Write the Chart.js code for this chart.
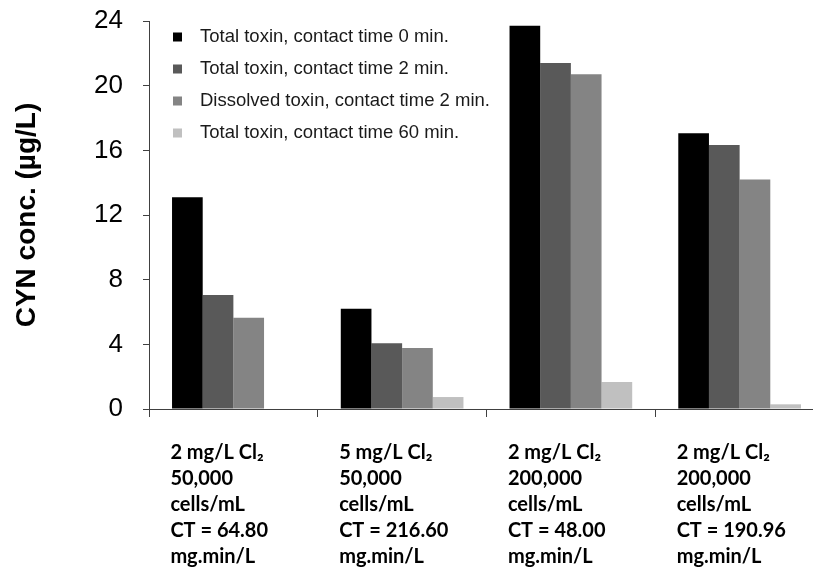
<!DOCTYPE html>
<html>
<head>
<meta charset="utf-8">
<script src="https://cdn.jsdelivr.net/npm/chart.js@4/dist/chart.umd.min.js"></script>
<style>
  html, body { margin: 0; padding: 0; background: #ffffff; overflow: hidden; }
  #wrap { width: 840px; height: 573px; }
  #chart { display: block; width: 840px; height: 573px; }
</style>
</head>
<body>
<div id="wrap"><canvas id="chart" width="840" height="573"></canvas></div>
<script>
// Treatment conditions (multi-line category labels)
const categories = [
  ['2 mg/L Cl\u2082', '50,000', 'cells/mL', 'CT = 64.80', 'mg.min/L'],
  ['5 mg/L Cl\u2082', '50,000', 'cells/mL', 'CT = 216.60', 'mg.min/L'],
  ['2 mg/L Cl\u2082', '200,000', 'cells/mL', 'CT = 48.00', 'mg.min/L'],
  ['2 mg/L Cl\u2082', '200,000', 'cells/mL', 'CT = 190.96', 'mg.min/L']
];

const seriesLabels = [
  'Total toxin, contact time 0 min.',
  'Total toxin, contact time 2 min.',
  'Dissolved toxin, contact time 2 min.',
  'Total toxin, contact time 60 min.'
];

// CYN concentrations, µg/L
const totalT0 = [13.1, 6.2, 23.7, 17.05];
const totalT2 = [7.05, 4.07, 21.4, 16.33];
const dissolvedT2 = [5.64, 3.78, 20.7, 14.2];
const totalT60 = [0, 0.74, 1.67, 0.29];

const yTicks = [0, 4, 8, 12, 16, 20, 24];

const colors = ['#000000', '#595959', '#848484', '#c0c0c0'];
const seriesValues = [totalT0, totalT2, dissolvedT2, totalT60];

// Legend drawn as a column in the upper-left of the plot area
const insideLegend = {
  id: 'insideLegend',
  afterDraw(chart) {
    const ctx = chart.ctx;
    const area = chart.chartArea;
    ctx.save();
    ctx.font = '18.5px "Liberation Sans", Arial, sans-serif';
    ctx.textBaseline = 'middle';
    ctx.textAlign = 'left';
    chart.data.datasets.forEach((ds, i) => {
      const cy = area.top + 16 + i * 32;
      ctx.fillStyle = ds.backgroundColor;
      ctx.fillRect(area.left + 24, cy - 4.5, 9, 9);
      ctx.fillStyle = '#1a1a1a';
      ctx.fillText(ds.label, area.left + 51, cy);
    });
    ctx.restore();
  }
};

// Keep the plot area fixed: no automatic room for overhanging labels
function noBoxPadding(scale) {
  scale.paddingLeft = 0;
  scale.paddingRight = 0;
  scale.paddingTop = 0;
  scale.paddingBottom = 0;
}

new Chart(document.getElementById('chart'), {
  type: 'bar',
  data: {
    labels: categories,
    datasets: seriesValues.map((vals, i) => ({
      label: seriesLabels[i],
      data: vals,
      backgroundColor: colors[i],
      borderWidth: 0,
      categoryPercentage: 0.727,
      barPercentage: 1.0
    }))
  },
  options: {
    responsive: false,
    animation: false,
    devicePixelRatio: 1,
    layout: { padding: { top: 21, right: 16, left: 0, bottom: 0 } },
    plugins: {
      legend: { display: false },
      tooltip: { enabled: false }
    },
    scales: {
      x: {
        offset: true,
        border: { display: true, color: '#404040', width: 1 },
        grid: {
          offset: true,
          drawOnChartArea: false,
          drawTicks: true,
          tickLength: 8,
          color: '#404040'
        },
        ticks: {
          autoSkip: false,
          maxRotation: 0,
          minRotation: 0,
          align: 'start',
          labelOffset: -63,
          padding: 23,
          color: '#000000',
          font: { family: 'Lato, "Open Sans", sans-serif', size: 20, weight: 'bold', lineHeight: 1.3 }
        },
        afterFit(scale) { scale.height = 164; noBoxPadding(scale); }
      },
      y: {
        min: 0,
        max: 24,
        afterBuildTicks(scale) { scale.ticks = yTicks.map(v => ({ value: v })); },
        border: { display: true, color: '#404040', width: 1 },
        grid: {
          drawOnChartArea: false,
          drawTicks: true,
          tickLength: 6,
          color: '#404040'
        },
        ticks: {
          padding: 20,
          color: '#000000',
          font: { family: '"Liberation Sans", Arial, sans-serif', size: 26 }
        },
        title: {
          display: true,
          text: 'CYN conc. (\u00b5g/L)',
          color: '#000000',
          padding: { top: 10, bottom: 0 },
          font: { family: '"Liberation Sans", Arial, sans-serif', size: 28, weight: 'bold', lineHeight: 1.2 }
        },
        afterFit(scale) { scale.width = 149; noBoxPadding(scale); }
      }
    }
  },
  plugins: [insideLegend]
});
</script>
</body>
</html>
